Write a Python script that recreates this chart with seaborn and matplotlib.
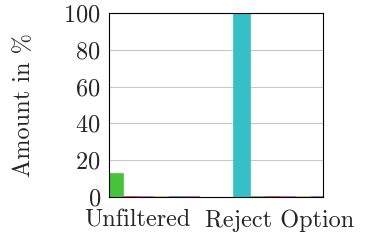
import pandas as pd
import matplotlib
matplotlib.use("Agg")
import matplotlib.pyplot as plt
import matplotlib.transforms as mtransforms
import seaborn as sns

# Values (percent)
groups = ["Unfiltered", "Reject Option"]
series = ["s1", "s2", "s3", "s4", "s5", "s6", "s7"]
unfiltered = [87.5, 12.5, 0, 0, 0, 0, 0]
reject_option = [100, 0, 0, 0, 0, 0, 0]
colors = ["#35bfc7", "#45c43a", "#c8393a", "#b04fd8", "#c8c43a", "#4a7fd6", "#d04fa8"]

rows = []
for g, vals in zip(groups, [unfiltered, reject_option]):
    for s, v in zip(series, vals):
        rows.append({"Group": g, "Series": s, "Amount": v})
df = pd.DataFrame(rows)

sns.set_style("white")
plt.rcParams["font.family"] = "serif"
plt.rcParams["font.serif"] = ["cmr10"]
plt.rcParams["axes.formatter.use_mathtext"] = True

fig = plt.figure(figsize=(3.7, 2.44), dpi=100)
ax = fig.add_axes([0.295, 0.193, 0.578, 0.754])

sns.barplot(data=df, x="Group", y="Amount", hue="Series", order=groups,
            hue_order=series, palette=colors, width=0.76, saturation=1,
            edgecolor=None, linewidth=0, legend=False, ax=ax)
for bar, c in zip(ax.patches, [c for c in colors for _ in groups]):
    bar.set_edgecolor(c)
    bar.set_linewidth(1.2)

ax.set_xlim(-0.26, 1.246)
ax.set_ylim(0, 100)
ax.set_yticks([0, 20, 40, 60, 80, 100])
ax.yaxis.grid(True, color="#c8c8c8", linewidth=0.8)
ax.set_axisbelow(True)
ax.set_xlabel("")
ax.set_ylabel("Amount in %", fontsize=17.5, labelpad=20)
ax.tick_params(axis="both", labelsize=17.5, length=0)
ax.tick_params(axis="x", pad=9)
ax.tick_params(axis="y", pad=6)
# labels sit a bit left of the group centres in the original
shift = mtransforms.ScaledTranslation(-6 / 72, 0, fig.dpi_scale_trans)
for lbl in ax.get_xticklabels():
    lbl.set_transform(lbl.get_transform() + shift)
for side in ["left", "right", "top", "bottom"]:
    ax.spines[side].set_visible(True)
    ax.spines[side].set_color("black")
    ax.spines[side].set_linewidth(0.8)

fig.savefig("out.png", dpi=100)
